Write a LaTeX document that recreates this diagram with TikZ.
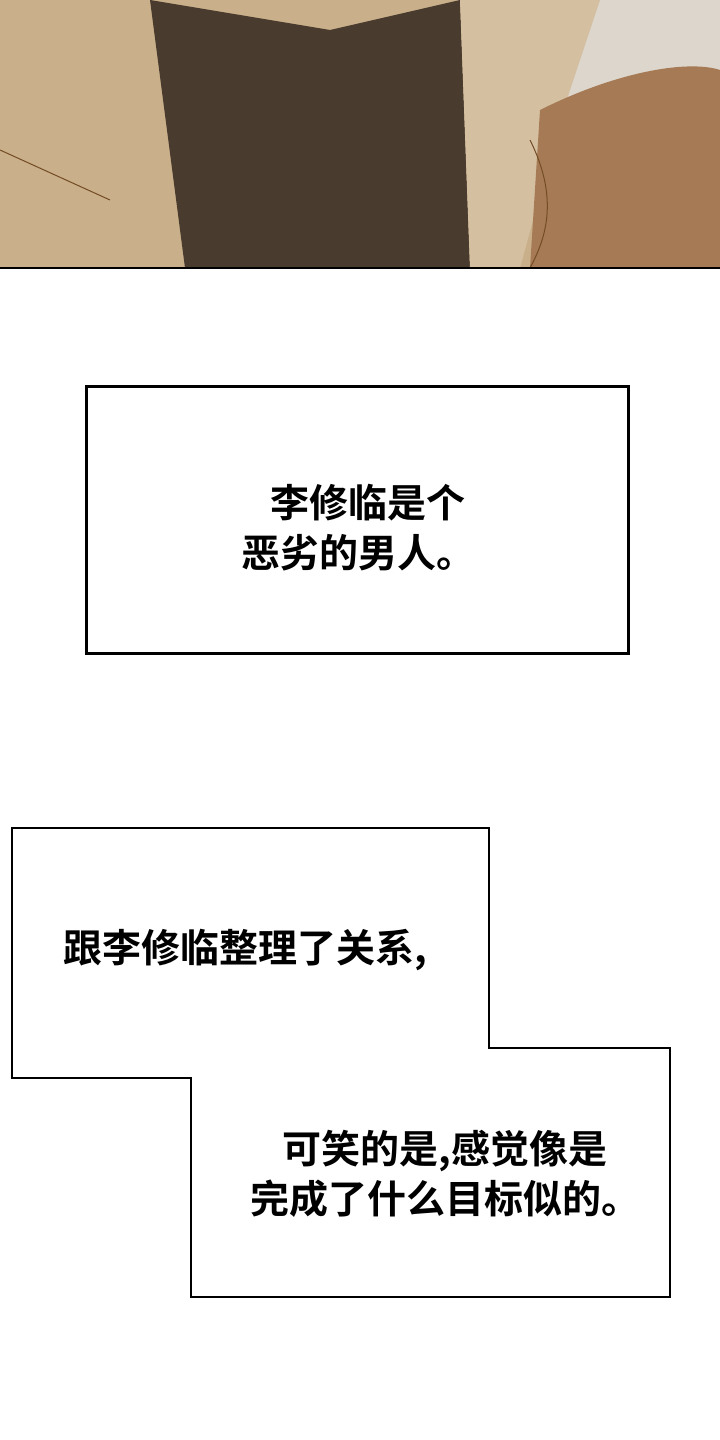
\documentclass[tikz,border=0pt]{standalone}
\usepackage{fontspec}
\newfontfamily\cjk{Noto Sans CJK SC Bold}
\definecolor{beige}{HTML}{C9B08A}
\definecolor{shirt}{HTML}{4A3B2F}
\definecolor{skin}{HTML}{A57A55}
\definecolor{bg}{HTML}{DCD6CC}
\tikzset{panel/.style={draw=black,line width=2.5pt,fill=white},
 txt/.style={font=\cjk\fontsize{39}{50}\selectfont,align=center}}
\begin{document}
\begin{tikzpicture}[x=1pt,y=-1pt]
\useasboundingbox (0,0) rectangle (720,1440);
\fill[white] (0,0) rectangle (720,1440);
% illustration
\fill[bg] (0,0) rectangle (720,268);
\fill[beige] (0,0) rectangle (560,268);
\fill[shirt] (150,0) -- (330,30) -- (460,0) -- (470,268) -- (185,268) -- cycle;
\fill[beige!80!white] (530,0) -- (600,0) -- (560,120) -- (520,268) -- (470,268) -- (460,0) -- cycle;
\fill[skin] (540,110) .. controls (620,70) and (690,60) .. (720,70) -- (720,268) -- (530,268) -- cycle;
\draw[line width=1pt,brown!60!black] (0,150) -- (110,200);
\draw[line width=1pt,brown!60!black] (530,140) .. controls (560,200) and (545,240) .. (530,268);
\draw[line width=2pt] (0,268) -- (720,268);
% box 1
\node[panel,minimum width=542pt,minimum height=267pt,anchor=north west] (b1) at (85,385) {};
\node[txt] (t1) at (358,528) {\hspace*{0.5em}李修临是个\\恶劣的男人。};
% box 2
\draw[panel] (12,828) -- (489,828) -- (489,1048) -- (670,1048) -- (670,1297) -- (191,1297) -- (191,1078) -- (12,1078) -- cycle;
\node[txt,anchor=west] (t2) at (60,950) {跟李修临整理了关系,};
\node[txt] (t3) at (445,1174) {可笑的是,感觉像是\\完成了什么目标似的。};
\end{tikzpicture}
\end{document}
